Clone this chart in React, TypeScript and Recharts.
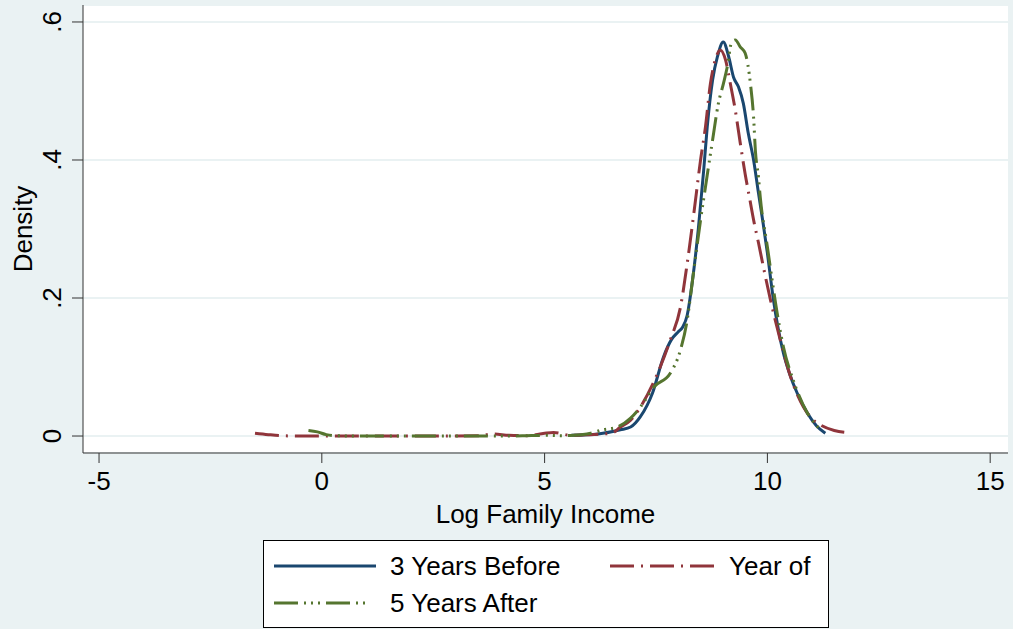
import { LineChart, Line, XAxis, YAxis, CartesianGrid } from "recharts";

// kernel density of log family income
const beforeX = [5.6, 6.2, 6.7, 6.93, 7.15, 7.42, 7.67, 7.85, 8.0, 8.1, 8.2, 8.32, 8.45, 8.57, 8.65, 8.77, 8.88, 9.01, 9.13, 9.24, 9.35, 9.46, 9.57, 9.69, 9.8, 9.9, 10.0, 10.13, 10.36, 10.5, 10.67, 10.9, 11.1, 11.3];
const beforeY = [0.001, 0.003, 0.009, 0.013, 0.028, 0.062, 0.115, 0.14, 0.151, 0.158, 0.175, 0.226, 0.3, 0.385, 0.448, 0.516, 0.55, 0.571, 0.55, 0.52, 0.506, 0.482, 0.439, 0.4, 0.352, 0.31, 0.265, 0.2, 0.12, 0.09, 0.062, 0.033, 0.015, 0.004];

const yearOfX = [-1.5, -1.2, -0.9, -0.5, 0, 1, 2, 3, 3.5, 3.85, 4.2, 4.6, 5.0, 5.2, 5.6, 6.0, 6.5, 6.7, 6.93, 7.15, 7.53, 7.82, 8.05, 8.2, 8.35, 8.5, 8.61, 8.72, 8.83, 8.95, 9.06, 9.17, 9.28, 9.39, 9.5, 9.6, 9.7, 9.8, 9.91, 10.07, 10.29, 10.52, 10.81, 11.0, 11.19, 11.5, 11.8];
const yearOfY = [0.004, 0.002, 0.0005, 0, 0, 0, 0, 0, 0.0003, 0.003, 0.001, 0.0005, 0.004, 0.005, 0.001, 0.002, 0.004, 0.013, 0.023, 0.042, 0.09, 0.139, 0.187, 0.25, 0.323, 0.4, 0.448, 0.51, 0.545, 0.559, 0.545, 0.51, 0.472, 0.425, 0.38, 0.345, 0.31, 0.28, 0.245, 0.197, 0.139, 0.086, 0.042, 0.025, 0.016, 0.008, 0.005];

const afterX = [-0.3, -0.1, 0.1, 0.3, 1, 2, 3, 4, 4.5, 5.0, 5.4, 5.65, 6.03, 6.3, 6.63, 6.93, 7.15, 7.45, 7.82, 8.05, 8.2, 8.32, 8.5, 8.61, 8.77, 8.9, 9.01, 9.1, 9.19, 9.28, 9.39, 9.5, 9.62, 9.69, 9.73, 9.8, 9.84, 10.0, 10.22, 10.36, 10.58, 10.9, 11.19];
const afterY = [0.008, 0.006, 0.002, 0.0003, 0, 0, 0, 0, 0.0003, 0.001, 0.0005, 0.001, 0.004, 0.009, 0.013, 0.026, 0.042, 0.071, 0.091, 0.125, 0.168, 0.226, 0.313, 0.361, 0.429, 0.482, 0.51, 0.535, 0.569, 0.574, 0.564, 0.555, 0.51, 0.462, 0.414, 0.375, 0.346, 0.274, 0.178, 0.129, 0.081, 0.033, 0.009];

const xTicks = [-5, 0, 5, 10, 15];
const yTicks = [0, 0.2, 0.4, 0.6];
const yTickLabels = ["0", ".2", ".4", ".6"];

const SERIES = [
  { name: "3 Years Before", xs: beforeX, ys: beforeY, color: "#1a476f", dash: undefined },
  { name: "Year of", xs: yearOfX, ys: yearOfY, color: "#90353b", dash: "24 7 2 7" },
  { name: "5 Years After", xs: afterX, ys: afterY, color: "#55752f", dash: "24 6 2 5 2 5 2 6" },
];

const FONT = '"Liberation Sans", Arial, sans-serif';
const FS = 26;
const BG = "#eaf2f3";

const toPoints = (xs: number[], ys: number[]) => xs.map((x, i) => ({ x, y: ys[i] }));

const YTick = ({ x, y, payload }: any) => {
  const idx = yTicks.indexOf(payload.value);
  return (
    <text
      transform={`translate(${x - 9},${y}) rotate(-90)`}
      textAnchor="middle"
      fontSize={FS}
      fontFamily={FONT}
      fill="#000"
    >
      {yTickLabels[idx] ?? payload.value}
    </text>
  );
};

const YTitle = ({ viewBox }: any) => (
  <text
    transform={`translate(32,${viewBox.y + viewBox.height / 2}) rotate(-90)`}
    textAnchor="middle"
    fontSize={FS}
    fontFamily={FONT}
    fill="#000"
  >
    Density
  </text>
);

const XTitle = ({ viewBox }: any) => (
  <text
    x={viewBox.x + viewBox.width / 2}
    y={viewBox.y + 70}
    textAnchor="middle"
    fontSize={FS}
    fontFamily={FONT}
    fill="#000"
  >
    Log Family Income
  </text>
);

function LegendSample({ color, dash, w }: { color: string; dash?: string; w: number }) {
  return (
    <svg width={w} height={6} style={{ display: "block" }}>
      <line x1={0} y1={3} x2={w} y2={3} stroke={color} strokeWidth={3} strokeDasharray={dash} />
    </svg>
  );
}

export default function App() {
  return (
    <div style={{ position: "absolute", left: 0, top: 0, width: 1013, height: 629, background: BG, fontFamily: FONT }}>
      <LineChart width={1013} height={629} margin={{ top: 5, right: 5, bottom: 0, left: 0 }}>
        <CartesianGrid vertical={false} stroke={BG} strokeWidth={2} fill="#ffffff" />
        <XAxis
          type="number"
          dataKey="x"
          domain={[-5.36, 15.4]}
          ticks={xTicks}
          allowDataOverflow
          height={176}
          tickSize={10}
          tickMargin={9}
          stroke="#333"
          tick={{ fill: "#000", fontSize: FS, fontFamily: FONT }}
          label={<XTitle />}
        />
        <YAxis
          type="number"
          domain={[-0.0246, 0.6246]}
          ticks={yTicks}
          allowDataOverflow
          width={83}
          tickSize={11}
          stroke="#333"
          tick={<YTick />}
          label={<YTitle />}
        />
        {SERIES.map((s) => (
          <Line
            key={s.name}
            data={toPoints(s.xs, s.ys)}
            dataKey="y"
            name={s.name}
            type="monotone"
            stroke={s.color}
            strokeWidth={3}
            strokeDasharray={s.dash}
            dot={false}
            isAnimationActive={false}
          />
        ))}
      </LineChart>

      {/* legend box under the x axis title */}
      <div
        style={{
          position: "absolute",
          left: 263,
          top: 540,
          width: 564,
          height: 86,
          background: "#fff",
          border: "1px solid #000",
          fontSize: FS,
          color: "#000",
        }}
      >
        <div style={{ position: "absolute", left: 10, top: 22 }}>
          <LegendSample color={SERIES[0].color} w={102} />
        </div>
        <div style={{ position: "absolute", left: 126, top: 10, lineHeight: "30px" }}>{SERIES[0].name}</div>
        <div style={{ position: "absolute", left: 346, top: 22 }}>
          <LegendSample color={SERIES[1].color} dash={SERIES[1].dash} w={104} />
        </div>
        <div style={{ position: "absolute", left: 465, top: 10, lineHeight: "30px" }}>{SERIES[1].name}</div>
        <div style={{ position: "absolute", left: 10, top: 59 }}>
          <LegendSample color={SERIES[2].color} dash={SERIES[2].dash} w={96} />
        </div>
        <div style={{ position: "absolute", left: 126, top: 47, lineHeight: "30px" }}>{SERIES[2].name}</div>
      </div>
    </div>
  );
}
